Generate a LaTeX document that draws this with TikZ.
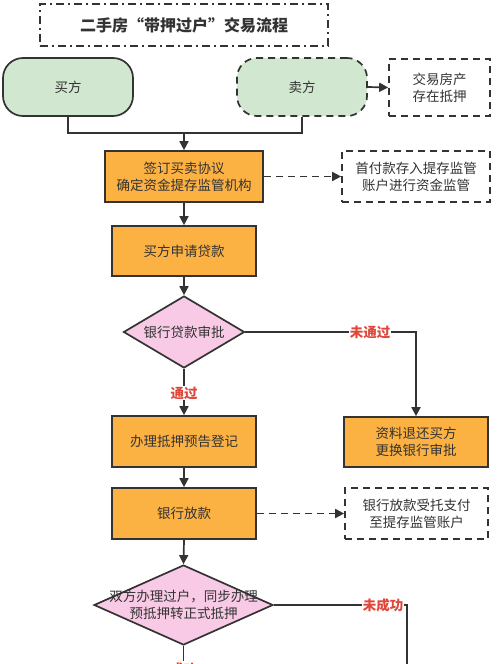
\documentclass[tikz,border=0pt]{standalone}
\usepackage{fontspec}
\setmainfont{Noto Sans CJK SC}
\usetikzlibrary{arrows.meta,shapes.geometric}
\definecolor{ink}{HTML}{333333}
\definecolor{greenfill}{HTML}{D2E7CF}
\definecolor{orangefill}{HTML}{FCB143}
\definecolor{pinkfill}{HTML}{F8CAE5}
\definecolor{redlab}{HTML}{E0473A}
\tikzset{
  x=1pt, y=-1pt,
  every node/.style={font=\fontsize{13.5}{17}\selectfont, text=ink, align=center, inner sep=0pt},
  line/.style={draw=ink, line width=1.7pt},
  arrowline/.style={line, -{Triangle[length=9pt,width=9pt]}},
  dashline/.style={arrowline, dash pattern=on 7pt off 5pt},
  greenbox/.style={draw=ink, line width=1.7pt, fill=greenfill, rounded corners=20pt, minimum width=130pt, minimum height=58pt},
  orangebox/.style={draw=ink, line width=1.7pt, fill=orangefill, minimum width=144pt, minimum height=51pt},
  notebox/.style={draw=ink, line width=1.7pt, fill=white, dash pattern=on 7pt off 5pt, minimum height=51pt},
  decision/.style={draw=ink, line width=1.7pt, fill=pinkfill, diamond, inner sep=0pt},
  redlabel/.style={font=\fontsize{13.5}{17}\selectfont\bfseries, text=redlab, fill=white, inner sep=1pt},
}
\begin{document}
\begin{tikzpicture}
\clip (0,0) rectangle (500,664);
\fill[white] (0,0) rectangle (500,664);
% title
\node[draw=ink, line width=1.7pt, dash pattern=on 8pt off 4pt on 2pt off 4pt, minimum width=288pt, minimum height=42pt, font=\fontsize{16}{20}\selectfont\bfseries] (title) at (184,25) {二手房“带押过户”交易流程};
% top row
\node[greenbox] (buyer) at (68,87) {买方};
\node[greenbox, dash pattern=on 7pt off 5pt] (seller) at (302,87) {卖方};
\node[notebox, minimum width=101pt, minimum height=57pt] (mort) at (439.5,87.5) {交易房产\\存在抵押};
% sign
\node[orangebox, minimum width=158pt] (sign) at (184,176.5) {签订买卖协议\\确定资金提存监管机构};
\node[notebox, minimum width=148pt] (deposit) at (416,176.5) {首付款存入提存监管\\账户进行资金监管};
% apply
\node[orangebox, minimum height=50pt] (apply) at (184,251) {买方申请贷款};
% decision 1
\node[decision, minimum width=121pt, minimum height=72pt] (d1) at (184,332) {};
\node (d1text) at (d1.center) {银行贷款审批};
\node[orangebox, minimum height=50pt] (ret) at (416,442) {资料退还买方\\更换银行审批};
\node[orangebox] (prereg) at (184,441.5) {办理抵押预告登记};
\node[orangebox] (loan) at (184,513.5) {银行放款};
\node[notebox, minimum width=143pt] (pay) at (416.5,513.5) {银行放款受托支付\\至提存监管账户};
% decision 2
\node[decision, minimum width=179pt, minimum height=80pt] (d2) at (183.5,605) {};
\node (d2text) at (d2.center) {双方办理过户，同步办理\\预抵押转正式抵押};
% helper coordinates
\coordinate (merge) at (184,133);
\coordinate (failend) at (407,700);
\coordinate (okend) at (183.5,700);
% connectors
\draw[line] (buyer.south) |- (merge) -| (seller.south);
\draw[arrowline] (merge) -- (sign.north);
\draw[arrowline] (seller.east) -- (mort.west);
\draw[dashline] (sign.east) -- (deposit.west);
\draw[arrowline] (sign.south) -- (apply.north);
\draw[arrowline] (apply.south) -- (d1.north);
\draw[arrowline] (d1.east) -| (ret.north);
\node[redlabel] (nopass) at (370,332) {未通过};
\draw[arrowline] (d1.south) -- (prereg.north);
\node[redlabel] (pass) at (184,393) {通过};
\draw[arrowline] (prereg.south) -- (loan.north);
\draw[dashline] (loan.east) -- (pay.west);
\draw[arrowline] (loan.south) -- (d2.north);
\draw[line] (d2.east) -| (failend);
\node[redlabel] (fail) at (383,605) {未成功};
\draw[line] (d2.south) -- (okend);
\node[redlabel] (ok) at (183.5,669) {成功};
\end{tikzpicture}
\end{document}
